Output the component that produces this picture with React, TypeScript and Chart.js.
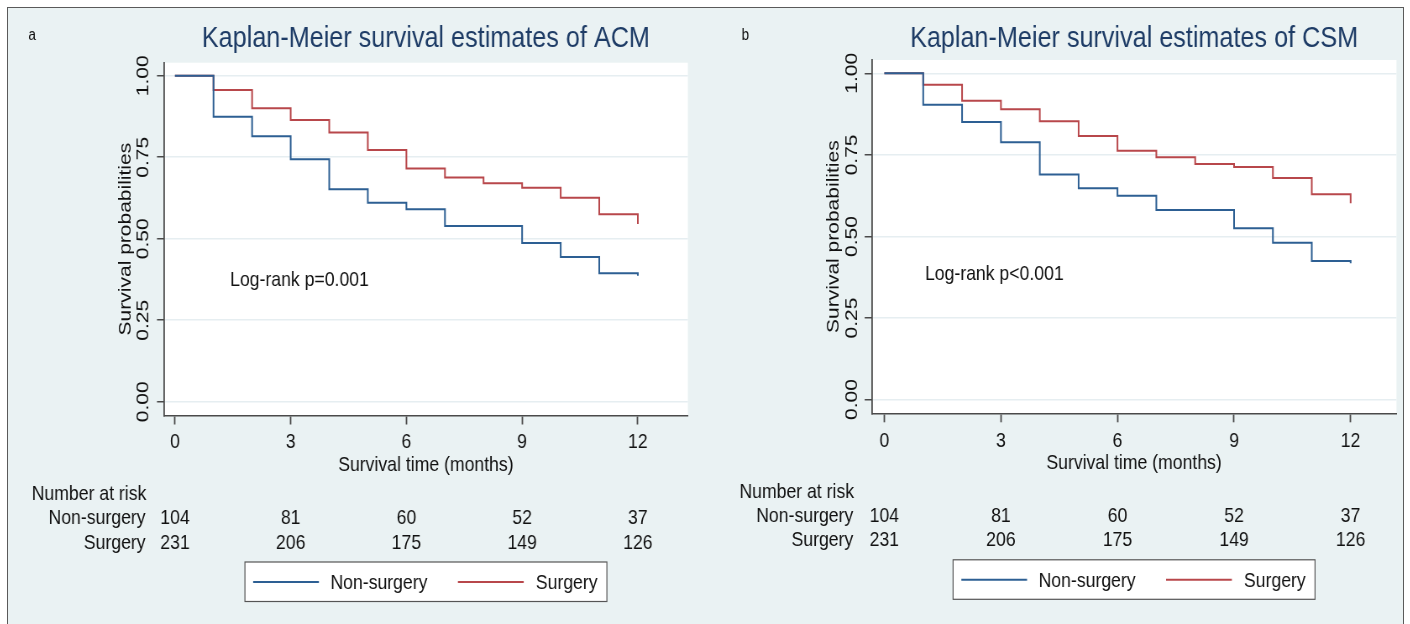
import React, { useEffect, useRef } from 'react';
import { Chart, registerables } from 'chart.js';

Chart.register(...registerables);

// ---------- data ----------
const months = [0, 1, 2, 3, 4, 5, 6, 7, 8, 9, 10, 11, 12];
const acmNonSurgery = [1.0, 0.874, 0.814, 0.744, 0.652, 0.61, 0.59, 0.539, 0.539, 0.487, 0.444, 0.394, 0.386];
const acmSurgery = [1.0, 0.956, 0.9, 0.864, 0.826, 0.772, 0.715, 0.688, 0.67, 0.656, 0.626, 0.575, 0.545];
const csmNonSurgery = [1.0, 0.904, 0.851, 0.789, 0.69, 0.648, 0.625, 0.581, 0.581, 0.525, 0.481, 0.425, 0.418];
const csmSurgery = [1.0, 0.965, 0.916, 0.89, 0.853, 0.808, 0.763, 0.743, 0.722, 0.713, 0.679, 0.629, 0.602];
const xTicks = [0, 3, 6, 9, 12];
const yTicks = [0, 0.25, 0.5, 0.75, 1];
const riskTimes = [0, 3, 6, 9, 12];
const riskNonSurgery = [104, 81, 60, 52, 37];
const riskSurgery = [231, 206, 175, 149, 126];
const seriesNames = ['Non-surgery', 'Surgery'];
const riskTitle = 'Number at risk';
const xTitle = 'Survival time (months)';
const yTitle = 'Survival probabilities';

// ---------- styles ----------
const SX = 0.84; // horizontal squeeze of the original figure
const FONT = '"Liberation Sans", Arial, sans-serif';
const BLUE = '#2d5f93';
const RED = '#b8474b';
const NAVY = '#1e3c66';
const TXT = '#111111';
const AX = '#4a4a4a';
const GRID = '#e6eef1';
const BG = '#eaf2f3';

type PanelCfg = {
  letter: string;
  letterX: number;
  title: string;
  non: number[];
  sur: number[];
  logrank: string;
  lrX: number;
  lrY: number;
  cssLeft: number;
  lw: number;
  pad: { left: number; right: number; bottom: number };
  titlePad: { top: number; bottom: number };
  xRange: [number, number];
  yRange: [number, number];
  yTickPad: number;
  xTickPad: number;
};

const panels: PanelCfg[] = [
  {
    letter: 'a',
    letterX: 24.2,
    title: 'Kaplan-Meier survival estimates of ACM',
    non: acmNonSurgery,
    sur: acmSurgery,
    logrank: 'Log-rank p=0.001',
    lrX: 1.43,
    lrY: 0.373,
    cssLeft: 8,
    lw: 824,
    pad: { left: 125.7, right: 14.5, bottom: 144.5 },
    titlePad: { top: 13, bottom: 5.7 },
    xRange: [-0.285, 13.296],
    yRange: [-0.0423, 1.0399],
    yTickPad: -4,
    xTickPad: 5.4,
  },
  {
    letter: 'b',
    letterX: 49.6,
    title: 'Kaplan-Meier survival estimates of CSM',
    non: csmNonSurgery,
    sur: csmSurgery,
    logrank: 'Log-rank p<0.001',
    lrX: 1.045,
    lrY: 0.385,
    cssLeft: 700,
    lw: 836,
    pad: { left: 144.4, right: 6.6, bottom: 146.7 },
    titlePad: { top: 13, bottom: 3 },
    xRange: [-0.327, 13.18],
    yRange: [-0.042, 1.0408],
    yTickPad: -6,
    xTickPad: 6.8,
  },
];

function makeExtras(cfg: PanelCfg) {
  return {
    id: 'extras_' + cfg.letter,
    beforeDraw(chart: any) {
      const { ctx, chartArea: ca } = chart;
      ctx.save();
      ctx.fillStyle = '#ffffff';
      ctx.fillRect(ca.left, ca.top, ca.right - ca.left, ca.bottom - ca.top);
      ctx.restore();
    },
    afterDraw(chart: any) {
      const { ctx, chartArea: ca } = chart;
      const xs = chart.scales.x;
      const ys = chart.scales.y;
      ctx.save();
      // panel letter
      ctx.fillStyle = TXT;
      ctx.font = `16px ${FONT}`;
      ctx.textAlign = 'left';
      ctx.textBaseline = 'alphabetic';
      ctx.fillText(cfg.letter, cfg.letterX, 32);

      // log-rank annotation
      ctx.font = `21px ${FONT}`;
      ctx.textBaseline = 'middle';
      ctx.fillText(cfg.logrank, xs.getPixelForValue(cfg.lrX), ys.getPixelForValue(cfg.lrY));

      // number at risk table
      ctx.textAlign = 'left';
      ctx.fillText(riskTitle, ca.left - 157.5, ca.bottom + 79);
      ctx.textAlign = 'right';
      ctx.fillText(seriesNames[0], ca.left - 21.9, ca.bottom + 102.8);
      ctx.fillText(seriesNames[1], ca.left - 21.9, ca.bottom + 127.3);
      ctx.textAlign = 'center';
      riskTimes.forEach((t, i) => {
        const px = xs.getPixelForValue(t);
        ctx.fillText(String(riskNonSurgery[i]), px, ca.bottom + 102.8);
        ctx.fillText(String(riskSurgery[i]), px, ca.bottom + 127.3);
      });

      // legend box
      const bw = 431;
      const bh = 39.5;
      const bx = (ca.left + ca.right) / 2 - bw / 2;
      const by = ca.bottom + 146.5;
      ctx.fillStyle = '#ffffff';
      ctx.fillRect(bx, by, bw, bh);
      ctx.strokeStyle = '#555555';
      ctx.lineWidth = 1.2;
      ctx.strokeRect(bx, by, bw, bh);
      ctx.lineWidth = 2;
      ctx.strokeStyle = BLUE;
      ctx.beginPath();
      ctx.moveTo(bx + 9.8, by + 20);
      ctx.lineTo(bx + 88.1, by + 20);
      ctx.stroke();
      ctx.strokeStyle = RED;
      ctx.beginPath();
      ctx.moveTo(bx + 253.6, by + 20);
      ctx.lineTo(bx + 332, by + 20);
      ctx.stroke();
      ctx.fillStyle = TXT;
      ctx.textAlign = 'left';
      ctx.textBaseline = 'middle';
      ctx.fillText(seriesNames[0], bx + 101.8, by + 21.5);
      ctx.fillText(seriesNames[1], bx + 346.4, by + 21.5);
      ctx.restore();
    },
  };
}

function Panel({ cfg }: { cfg: PanelCfg }) {
  const ref = useRef<HTMLCanvasElement>(null);
  useEffect(() => {
    const canvas = ref.current;
    if (!canvas) return;
    Chart.defaults.font.family = FONT;
    const chart = new Chart(canvas, {
      type: 'line',
      data: {
        datasets: [
          {
            label: seriesNames[0],
            data: months.map((m, i) => ({ x: m, y: cfg.non[i] })),
            borderColor: BLUE,
            borderWidth: 2,
            pointRadius: 0,
            stepped: true,
            fill: false,
          },
          {
            label: seriesNames[1],
            data: months.map((m, i) => ({ x: m, y: cfg.sur[i] })),
            borderColor: RED,
            borderWidth: 2,
            pointRadius: 0,
            stepped: true,
            fill: false,
          },
        ],
      },
      options: {
        animation: false,
        responsive: false,
        devicePixelRatio: 1,
        events: [],
        layout: { padding: { left: cfg.pad.left, right: cfg.pad.right, top: 0, bottom: cfg.pad.bottom } },
        plugins: {
          legend: { display: false },
          tooltip: { enabled: false },
          title: {
            display: true,
            text: cfg.title,
            color: NAVY,
            fullSize: false,
            font: { size: 30, family: FONT, weight: 'normal', lineHeight: 1.2 },
            padding: { top: cfg.titlePad.top, bottom: cfg.titlePad.bottom },
          },
        },
        scales: {
          x: {
            type: 'linear',
            min: cfg.xRange[0],
            max: cfg.xRange[1],
            afterBuildTicks: (s: any) => {
              s.ticks = xTicks.map((v) => ({ value: v }));
            },
            afterFit: (s: any) => {
              s.height = 64;
            },
            grid: { drawOnChartArea: false, drawTicks: true, tickLength: 9, tickColor: AX, tickWidth: 1.8 },
            border: { display: true, color: AX, width: 1.5 },
            ticks: {
              autoSkip: false,
              minRotation: 0,
              maxRotation: 0,
              padding: cfg.xTickPad,
              color: TXT,
              font: { size: 21, family: FONT, lineHeight: 1.2 },
              callback: (v: any) => String(v),
            },
            title: {
              display: true,
              text: xTitle,
              color: TXT,
              font: { size: 21, family: FONT, lineHeight: 1.2 },
              padding: { top: 0, bottom: 1.65 },
            },
          },
          y: {
            type: 'linear',
            min: cfg.yRange[0],
            max: cfg.yRange[1],
            afterBuildTicks: (s: any) => {
              s.ticks = yTicks.map((v) => ({ value: v }));
            },
            afterFit: (s: any) => {
              s.width = 60;
            },
            grid: {
              drawOnChartArea: true,
              color: GRID,
              lineWidth: 1.5,
              drawTicks: true,
              tickLength: 8.3,
              tickColor: AX,
              tickWidth: 1.5,
            },
            border: { display: true, color: AX, width: 1.8 },
            ticks: {
              autoSkip: false,
              minRotation: 90,
              maxRotation: 90,
              crossAlign: 'center',
              padding: cfg.yTickPad,
              color: TXT,
              font: { size: 21, family: FONT, lineHeight: 1.2 },
              callback: (v: any) => Number(v).toFixed(2),
            },
            title: {
              display: true,
              text: yTitle,
              color: TXT,
              font: { size: 21, family: FONT, lineHeight: 1.2 },
              padding: { top: 2.2, bottom: 0 },
            },
          },
        },
      } as any,
      plugins: [makeExtras(cfg)],
    });
    return () => chart.destroy();
  }, [cfg]);
  return (
    <canvas
      ref={ref}
      width={cfg.lw}
      height={616}
      style={{
        position: 'absolute',
        left: cfg.cssLeft + 'px',
        top: '8px',
        width: cfg.lw * SX + 'px',
        height: '616px',
        display: 'block',
      }}
    />
  );
}

export default function App() {
  return (
    <div style={{ position: 'absolute', left: 0, top: 0, width: 1410, height: 624, overflow: 'hidden', background: '#ffffff' }}>
      <div
        style={{
          position: 'absolute',
          left: 7,
          top: 7,
          width: 1397,
          height: 640,
          boxSizing: 'border-box',
          border: '1px solid #5a5a5a',
          background: BG,
        }}
      />
      {panels.map((p) => (
        <Panel key={p.letter} cfg={p} />
      ))}
    </div>
  );
}
